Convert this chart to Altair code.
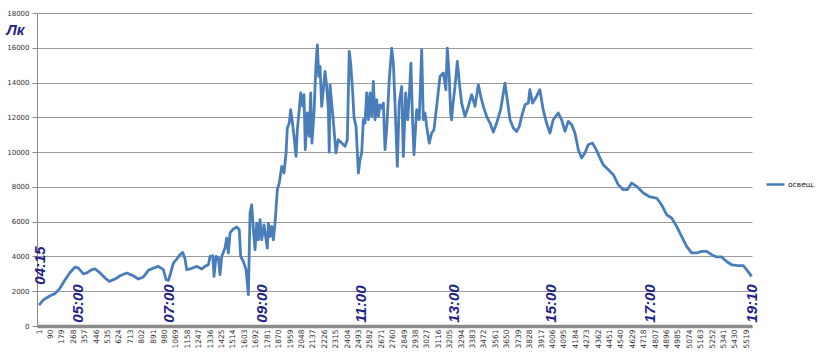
import altair as alt
import pandas as pd

# sample index (category number) and illuminance
line_idx = [1, 35, 87, 126, 165, 204, 243, 282, 308, 347, 373, 412, 438, 477, 516, 549, 594, 633, 685, 736,
            776, 815, 854, 893, 932, 971, 992, 1010, 1028, 1049, 1075, 1101, 1122, 1140, 1153, 1179, 1231, 1270,
            1296, 1322, 1335, 1356, 1366, 1382, 1400, 1413, 1426, 1452, 1465, 1478, 1491, 1517, 1543, 1563, 1574,
            1595, 1616, 1634, 1647, 1660, 1673, 1686, 1699, 1712, 1725, 1738, 1756, 1772, 1782, 1790, 1803, 1816,
            1829, 1842, 1860, 1875, 1894, 1912, 1928, 1938, 1953, 1964, 1980, 1990, 2006, 2016, 2031, 2042, 2058,
            2068, 2078, 2094, 2109, 2120, 2130, 2146, 2162, 2172, 2183, 2193, 2206, 2219, 2232, 2245, 2258, 2265,
            2271, 2284, 2296, 2317, 2335, 2362, 2388, 2406, 2421, 2432, 2448, 2458, 2474, 2492, 2505, 2518, 2531,
            2544, 2557, 2570, 2583, 2596, 2609, 2622, 2635, 2648, 2661, 2674, 2687, 2700, 2713, 2733, 2752, 2765,
            2778, 2796, 2811, 2830, 2843, 2861, 2877, 2889, 2902, 2915, 2926, 2947, 2967, 2986, 2999, 3012, 3025,
            3045, 3064, 3082, 3103, 3129, 3155, 3175, 3186, 3201, 3212, 3220, 3228, 3246, 3264, 3280, 3298, 3324,
            3350, 3376, 3402, 3428, 3447, 3467, 3493, 3519, 3545, 3571, 3602, 3636, 3654, 3675, 3701, 3727, 3748,
            3766, 3792, 3818, 3830, 3851, 3882, 3908, 3934, 3960, 3987, 4012, 4051, 4078, 4104, 4129, 4156, 4182,
            4208, 4234, 4260, 4285, 4319, 4351, 4377, 4403, 4442, 4481, 4520, 4559, 4590, 4624, 4663, 4715, 4767,
            4819, 4858, 4897, 4936, 4975, 5014, 5053, 5092, 5131, 5170, 5209, 5248, 5287, 5326, 5365, 5404, 5443,
            5495, 5521, 5560]
line_lux = [1200, 1500, 1740, 1860, 2180, 2660, 3080, 3390, 3330, 3000, 3050, 3240, 3280, 3050, 2760, 2565, 2700,
            2890, 3050, 2890, 2700, 2820, 3200, 3330, 3430, 3240, 2660, 2620, 3050, 3620, 3850, 4100, 4230, 3850,
            3240, 3280, 3430, 3280,
            3430, 3520, 4000, 4040, 2850, 4000, 3910, 2950, 4000, 4480, 5060, 4200, 5350, 5580, 5690, 5540, 4000,
            3710, 3240, 1800, 6500, 6970, 5540, 4390, 5920, 4960, 6110, 4960, 5820, 4960, 4480, 5920, 5150, 5730,
            4960, 5920, 7840, 8220, 9180, 8800, 9950, 11390, 11670, 12440, 11570, 10900, 9750, 11290, 12440, 13400,
            12630, 13300, 10140, 12250, 10900, 13400, 10520, 12250, 15120, 16170, 14350, 14930, 12630, 13590, 14640,
            13780, 12440, 10000, 13870, 12820, 11860, 9950, 10710, 10520, 10330, 10710, 15790, 15120, 13400, 12000,
            11480, 8800, 9560, 9950, 11860, 11670, 13400, 11860, 13400, 12050, 14060, 11860, 13010, 12050, 12720,
            12530, 12820, 10140, 11290, 14160, 15980, 15120, 12820, 9180, 12820, 13780, 9750, 13400, 11860, 13210,
            15120, 11860, 9850, 12440, 11860, 15890, 11860, 12250, 11480, 10520, 11100, 11290, 12630, 14350, 14550,
            13590, 15980, 14350, 12250, 11860, 12630, 13780, 15220, 13970, 12820, 12050, 12630, 13300, 12630, 13870,
            13200, 12630, 12050, 11670, 11150, 11670, 12440, 13970, 13010, 11860, 11390, 11190, 11480, 12050, 12720,
            12820, 13590, 12820, 13200, 13590, 12440, 11670, 11100, 11860, 12250, 11860, 11190, 11770, 11580, 11100,
            10140, 9660, 9950, 10420, 10520, 10100, 9660, 9270, 8990, 8700, 8120, 7840, 7840, 8220, 8030, 7650, 7420,
            7360, 6970, 6400, 6210, 5730, 5150, 4580, 4200, 4200, 4290, 4290, 4100, 3970, 3970, 3710, 3520, 3480,
            3470, 3240, 2850]

x_tick_labels = list(range(1, 5520, 89))
y_ticks = [0, 2000, 4000, 6000, 8000, 10000, 12000, 14000, 16000, 18000]

time_labels = ["04:15", "05:00", "07:00", "09:00", "11:00", "13:00", "15:00", "17:00", "19:10"]
time_idx = [8, 305, 1011, 1744, 2513, 3238, 3995, 4767, 5566]
time_lux = [2375, 190, 190, 190, 190, 190, 190, 190, 190]

series_name = "освещ."

df = pd.DataFrame({"idx": line_idx, "lux": line_lux, "series": series_name})
tdf = pd.DataFrame({"idx": time_idx, "lux": time_lux, "label": time_labels})

NAVY = "#1f1f8c"
xscale = alt.Scale(domain=[-15, 5563], nice=False, zero=False)
yscale = alt.Scale(domain=[0, 18000], nice=False)

xaxis = alt.Axis(values=x_tick_labels, format="d", labelAngle=270, labelFont="DejaVu Sans",
                 labelFontSize=7.5, labelColor="#333333", labelPadding=3,
                 domainColor="#8a8a8a", domainWidth=3.5, ticks=False,
                 grid=False, title=None, labelOverlap=False, labelFlush=False,
                 labelBound=False, tickCount=63)
yaxis = alt.Axis(values=y_ticks, format="d", labelFont="DejaVu Sans", labelFontSize=7,
                 labelColor="#333333", labelPadding=3, tickSize=5, tickColor="#8a8a8a",
                 domainColor="#8a8a8a", gridColor="#9a9a9a", gridWidth=1,
                 labelOverlap=False, labelFlush=False, tickCount=10,
                 title="Лк", titleAngle=0, titleX=-22, titleY=16, titleAlign="center",
                 titleBaseline="middle", titleFont="Liberation Sans", titleFontSize=15,
                 titleFontStyle="italic", titleFontWeight="bold", titleColor=NAVY)

line = alt.Chart(df).mark_line(strokeWidth=2.8, strokeJoin="round").encode(
    x=alt.X("idx:Q", scale=xscale, axis=xaxis),
    y=alt.Y("lux:Q", scale=yscale, axis=yaxis),
    color=alt.Color("series:N", scale=alt.Scale(range=["#4a7ebb"]),
                    legend=alt.Legend(title=None, orient="none", legendX=728, legendY=161,
                                      symbolType="stroke", symbolSize=324, symbolStrokeWidth=2.5,
                                      labelFont="DejaVu Sans", labelFontSize=7.5, labelColor="#222222",
                                      labelOffset=2, padding=0)),
)

texts = alt.Chart(tdf).mark_text(angle=270, align="left", baseline="middle", font="Liberation Sans",
                                 fontSize=15, fontStyle="italic", fontWeight="bold", color=NAVY).encode(
    x=alt.X("idx:Q", scale=xscale, axis=xaxis),
    y=alt.Y("lux:Q", scale=yscale, axis=yaxis),
    text="label:N",
)

chart = alt.layer(line, texts).properties(
    width=715, height=313,
    autosize=alt.AutoSizeParams(type="none"),
    padding={"left": 37, "top": 13, "right": 68, "bottom": 32},
    background="white",
).configure_view(stroke=None)

chart.save("out.html", embed_options={"renderer": "svg", "actions": False})
